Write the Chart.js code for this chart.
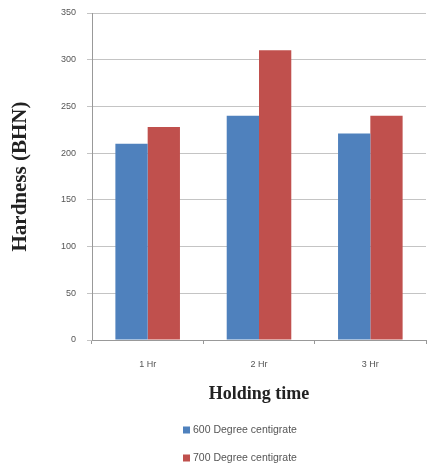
<!DOCTYPE html>
<html>
<head>
<meta charset="utf-8">
<script src="https://cdn.jsdelivr.net/npm/chart.js@4"></script>
<style>
  html, body { margin: 0; padding: 0; background: #fff; }
  #wrap { width: 427px; height: 467px; }
</style>
</head>
<body>
<div id="wrap"><canvas id="hardnessChart" width="427" height="467"></canvas></div>
<script>
// Hardness after heat treatment, grouped by holding time
const holdingTimes = ['1 Hr', '2 Hr', '3 Hr'];
const hardness600 = [210, 240, 221];
const hardness700 = [228, 310, 240];
const seriesNames = ['600 Degree centigrate', '700 Degree centigrate'];
const seriesColors = ['#4F81BD', '#C0504D'];

// two-row legend under the axis title
const stackedLegend = {
    id: 'stackedLegend',
    afterDraw(chart) {
        const ctx = chart.ctx;
        const left = chart.chartArea.left + 91;
        ctx.save();
        ctx.font = '10.5px "Liberation Sans", Arial, sans-serif';
        ctx.textBaseline = 'middle';
        ctx.textAlign = 'left';
        chart.data.datasets.forEach((ds, i) => {
            const y = 430 + i * 28;
            ctx.fillStyle = ds.backgroundColor;
            ctx.fillRect(left, y - 3.5, 7, 7);
            ctx.fillStyle = '#555';
            ctx.fillText(ds.label, left + 10, y);
        });
        ctx.restore();
    }
};

new Chart(document.getElementById('hardnessChart'), {
    type: 'bar',
    data: {
        labels: holdingTimes,
        datasets: [
            { label: seriesNames[0], data: hardness600, backgroundColor: seriesColors[0] },
            { label: seriesNames[1], data: hardness700, backgroundColor: seriesColors[1] }
        ]
    },
    options: {
        responsive: false,
        animation: false,
        categoryPercentage: 0.58,
        barPercentage: 1.0,
        layout: { padding: { top: 13, right: 1, bottom: 62, left: 0 } },
        plugins: {
            legend: { display: false },
            tooltip: { enabled: false }
        },
        scales: {
            x: {
                afterFit: (scale) => { scale.height = 65; },
                grid: {
                    offset: true,
                    drawOnChartArea: false,
                    tickLength: 4,
                    color: '#999'
                },
                border: { color: '#999' },
                ticks: {
                    padding: 15,
                    color: '#555',
                    font: { family: '"Liberation Sans", Arial, sans-serif', size: 9 }
                },
                title: {
                    display: true,
                    text: 'Holding time',
                    color: '#222',
                    padding: 0,
                    font: { family: '"Liberation Serif", "Times New Roman", serif', size: 18, weight: 'bold' }
                }
            },
            y: {
                min: 0,
                max: 350,
                afterFit: (scale) => {
                    scale.width = 92;
                    scale.paddingTop = 4;
                },
                grid: {
                    color: '#c4c4c4',
                    tickLength: 5,
                    lineWidth: 1
                },
                border: { color: '#999' },
                ticks: {
                    stepSize: 50,
                    padding: 11,
                    color: '#555',
                    font: { family: '"Liberation Sans", Arial, sans-serif', size: 9 }
                },
                title: {
                    display: true,
                    text: 'Hardness (BHN)',
                    color: '#222',
                    padding: { top: 8, bottom: 0 },
                    font: { family: '"Liberation Serif", "Times New Roman", serif', size: 21, weight: 'bold' }
                }
            }
        }
    },
    plugins: [stackedLegend]
});
</script>
</body>
</html>
